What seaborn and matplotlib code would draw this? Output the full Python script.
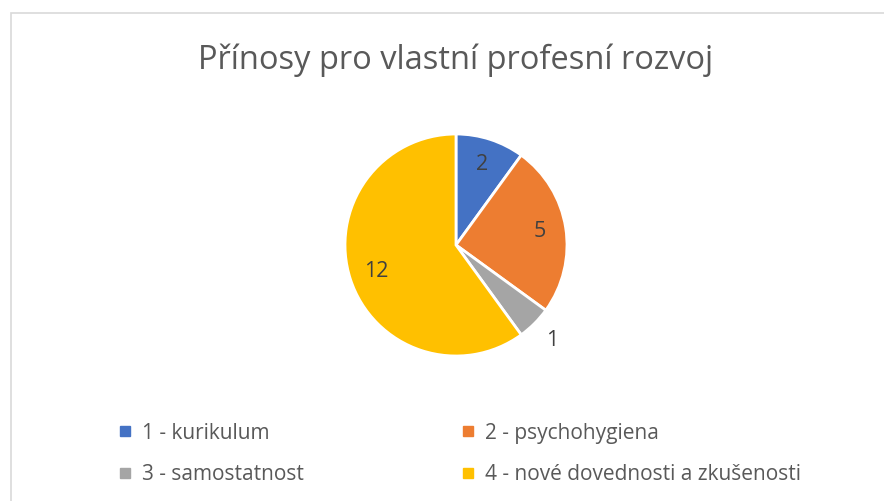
import numpy as np
import seaborn as sns
import matplotlib
matplotlib.use("Agg")
import matplotlib.pyplot as plt
from matplotlib.lines import Line2D
from matplotlib.patches import Rectangle

# chart data
categories = ["1 - kurikulum", "2 - psychohygiena", "3 - samostatnost", "4 - nové dovednosti a zkušenosti"]
counts = [2, 5, 1, 12]
colors = ["#4472C4", "#ED7D31", "#A5A5A5", "#FFC000"]
title = "Přínosy pro vlastní profesní rozvoj"

sns.set_theme(style="white")
plt.rcParams['font.family'] = ['Open Sans', 'DejaVu Sans']

fig = plt.figure(figsize=(8.84, 5.01), dpi=100)
fig.patch.set_facecolor("white")

# light frame like the office chart area (top + left visible)
fig.patches.append(Rectangle((11 / 884, -0.1), 1.2, (501 - 13) / 501 + 0.1, transform=fig.transFigure,
                             fill=False, edgecolor="#D9D9D9", linewidth=1.2))

ax = fig.add_axes([345 / 884, 1 - 356 / 501, 222 / 884, 222 / 501])
wedges, texts, autotexts = ax.pie(counts, colors=colors, startangle=90, counterclock=False,
                                  autopct=lambda p: "{:.0f}".format(p * sum(counts) / 100),
                                  pctdistance=0.76,
                                  wedgeprops=dict(edgecolor="white", linewidth=2.0),
                                  textprops=dict(color="#404040", fontsize=15.5))
ax.set_aspect("equal")
ax.set_xlim(-1.0, 1.0)
ax.set_ylim(-1.0, 1.0)

# small slice gets its label outside
for w, t, v in zip(wedges, autotexts, counts):
    t.set_clip_on(False)
    if v / sum(counts) < 0.08:
        ang = np.deg2rad((w.theta1 + w.theta2) / 2)
        t.set_position((1.22 * np.cos(ang), 1.22 * np.sin(ang)))

fig.text(456 / 884, 1 - 60 / 501, title, ha="center", va="center", fontsize=23.5, color="#595959")

# legend is filled row by row
order = [0, 2, 1, 3]
handles = [Line2D([], [], marker="s", linestyle="", color=colors[i], markersize=7) for i in order]
labels = [categories[i] for i in order]
leg = fig.legend(handles, labels, ncol=2, loc="upper left", bbox_to_anchor=(100 / 884, 1 - 404 / 501),
                 frameon=False, fontsize=15, labelcolor="#595959", handlelength=0.6, handletextpad=0.5,
                 columnspacing=7.6, labelspacing=0.98)

plt.savefig("out.png", dpi=100)
plt.close()
